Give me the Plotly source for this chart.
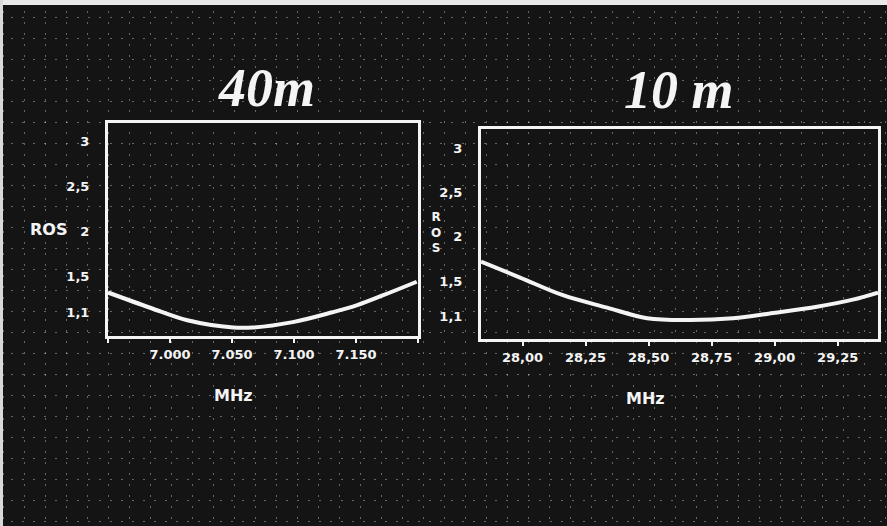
import plotly.graph_objects as go

# ---------------- data ----------------
freq_40m = [6.950, 6.984, 7.014, 7.051, 7.067, 7.099, 7.131, 7.151, 7.172, 7.199]
ros_40m = [1.32, 1.15, 1.01, 0.93, 0.93, 0.99, 1.10, 1.18, 1.29, 1.44]

freq_10m = [27.835, 27.99, 28.16, 28.335, 28.494, 28.665, 28.835, 28.994, 29.168, 29.31, 29.41]
ros_10m = [1.72, 1.54, 1.34, 1.20, 1.08, 1.06, 1.08, 1.14, 1.21, 1.29, 1.37]

x40_tickvals = [6.95, 7.00, 7.05, 7.10, 7.15, 7.20]
x40_ticktext = ["", "7.000", "7.050", "7.100", "7.150", ""]
x10_tickvals = [28.00, 28.25, 28.50, 28.75, 29.00, 29.25]
x10_ticktext = ["28,00", "28,25", "28,50", "28,75", "29,00", "29,25"]
y_tickvals = [1.1, 1.5, 2, 2.5, 3]
y_ticktext = ["1,1", "1,5", "2", "2,5", "3"]

W, H = 887, 526
BG = "#141414"
WHITE = "#f4f4f4"
tickfont = dict(family="DejaVu Sans", size=13, color=WHITE, weight="bold")

fig = go.Figure()

# background graph-paper subplot (whole page)
fig.add_trace(go.Scatter(x=[None], y=[None], xaxis="x", yaxis="y", showlegend=False, hoverinfo="skip"))
# data subplots
fig.add_trace(go.Scatter(x=freq_40m, y=ros_40m, mode="lines", line=dict(color=WHITE, width=4, shape="spline"),
                         xaxis="x2", yaxis="y2", showlegend=False))
fig.add_trace(go.Scatter(x=freq_10m, y=ros_10m, mode="lines", line=dict(color=WHITE, width=4, shape="spline"),
                         xaxis="x3", yaxis="y3", showlegend=False))

grid_common = dict(showgrid=True, gridcolor="rgba(255,255,255,0.35)", gridwidth=1, griddash="2px,9px",
                   zeroline=False, showticklabels=False, ticks="", showline=False, fixedrange=True)

axis_frame = dict(showline=True, linecolor=WHITE, linewidth=3, mirror=True, showgrid=False, zeroline=False)

fig.update_layout(
    width=W, height=H,
    margin=dict(l=0, r=0, t=0, b=0),
    paper_bgcolor=BG, plot_bgcolor="rgba(0,0,0,0)",
    xaxis=dict(domain=[0, 1], range=[0, W], dtick=21, tick0=3, anchor="y", **grid_common),
    yaxis=dict(domain=[0, 1], range=[0, H], dtick=21, tick0=5, anchor="x", **grid_common),
    xaxis2=dict(domain=[108 / W, 418 / W], range=[6.95, 7.20], anchor="y2",
                tickvals=x40_tickvals, ticktext=x40_ticktext, ticks="outside", ticklen=4,
                tickcolor=WHITE, tickwidth=2, tickfont=tickfont, **axis_frame),
    yaxis2=dict(domain=[(H - 336) / H, (H - 123) / H], range=[0.835, 3.21], anchor="x2",
                tickvals=y_tickvals, ticktext=y_ticktext, ticks="outside", ticklen=13,
                tickcolor="rgba(0,0,0,0)", tickfont=tickfont, **axis_frame),
    xaxis3=dict(domain=[481 / W, 878 / W], range=[27.835, 29.41], anchor="y3",
                tickvals=x10_tickvals, ticktext=x10_ticktext, ticks="outside", ticklen=4,
                tickcolor=WHITE, tickwidth=2, tickfont=tickfont, **axis_frame),
    yaxis3=dict(domain=[(H - 339) / H, (H - 129) / H], range=[0.845, 3.22], anchor="x3",
                tickvals=y_tickvals, ticktext=y_ticktext, ticks="outside", ticklen=13,
                tickcolor="rgba(0,0,0,0)", tickfont=tickfont, **axis_frame),
)

# thin light scan border at the top and left edge
fig.add_shape(type="rect", xref="paper", yref="paper", x0=0, x1=1, y0=(H - 5) / H, y1=1,
              fillcolor="#e8e8e8", line=dict(width=0), layer="above")
fig.add_shape(type="rect", xref="paper", yref="paper", x0=0, x1=3 / W, y0=0, y1=1,
              fillcolor="#d8d8d8", line=dict(width=0), layer="above")

title_font = dict(family="Liberation Serif", size=54, color=WHITE, weight="bold", style="italic")
label_font = dict(family="DejaVu Sans", size=16, color=WHITE, weight="bold")

annotations = [
    dict(text="40m", x=266 / W, y=(H - 88) / H, font=title_font),
    dict(text="10 m", x=679 / W, y=(H - 90) / H, font=title_font),
    dict(text="ROS", x=48 / W, y=(H - 230) / H, font=label_font),
    dict(text="R<br>O<br>S", x=436 / W, y=(H - 232) / H, font=dict(family="DejaVu Sans", size=12, color=WHITE, weight="bold")),
    dict(text="MHz", x=233 / W, y=(H - 395) / H, font=label_font),
    dict(text="MHz", x=645 / W, y=(H - 398) / H, font=label_font),
]
for a in annotations:
    fig.add_annotation(xref="paper", yref="paper", showarrow=False, xanchor="center", yanchor="middle", **a)

fig.write_html("out.html", config={"displayModeBar": False},
               post_script="document.body.style.margin='0';document.body.style.overflow='hidden';")
